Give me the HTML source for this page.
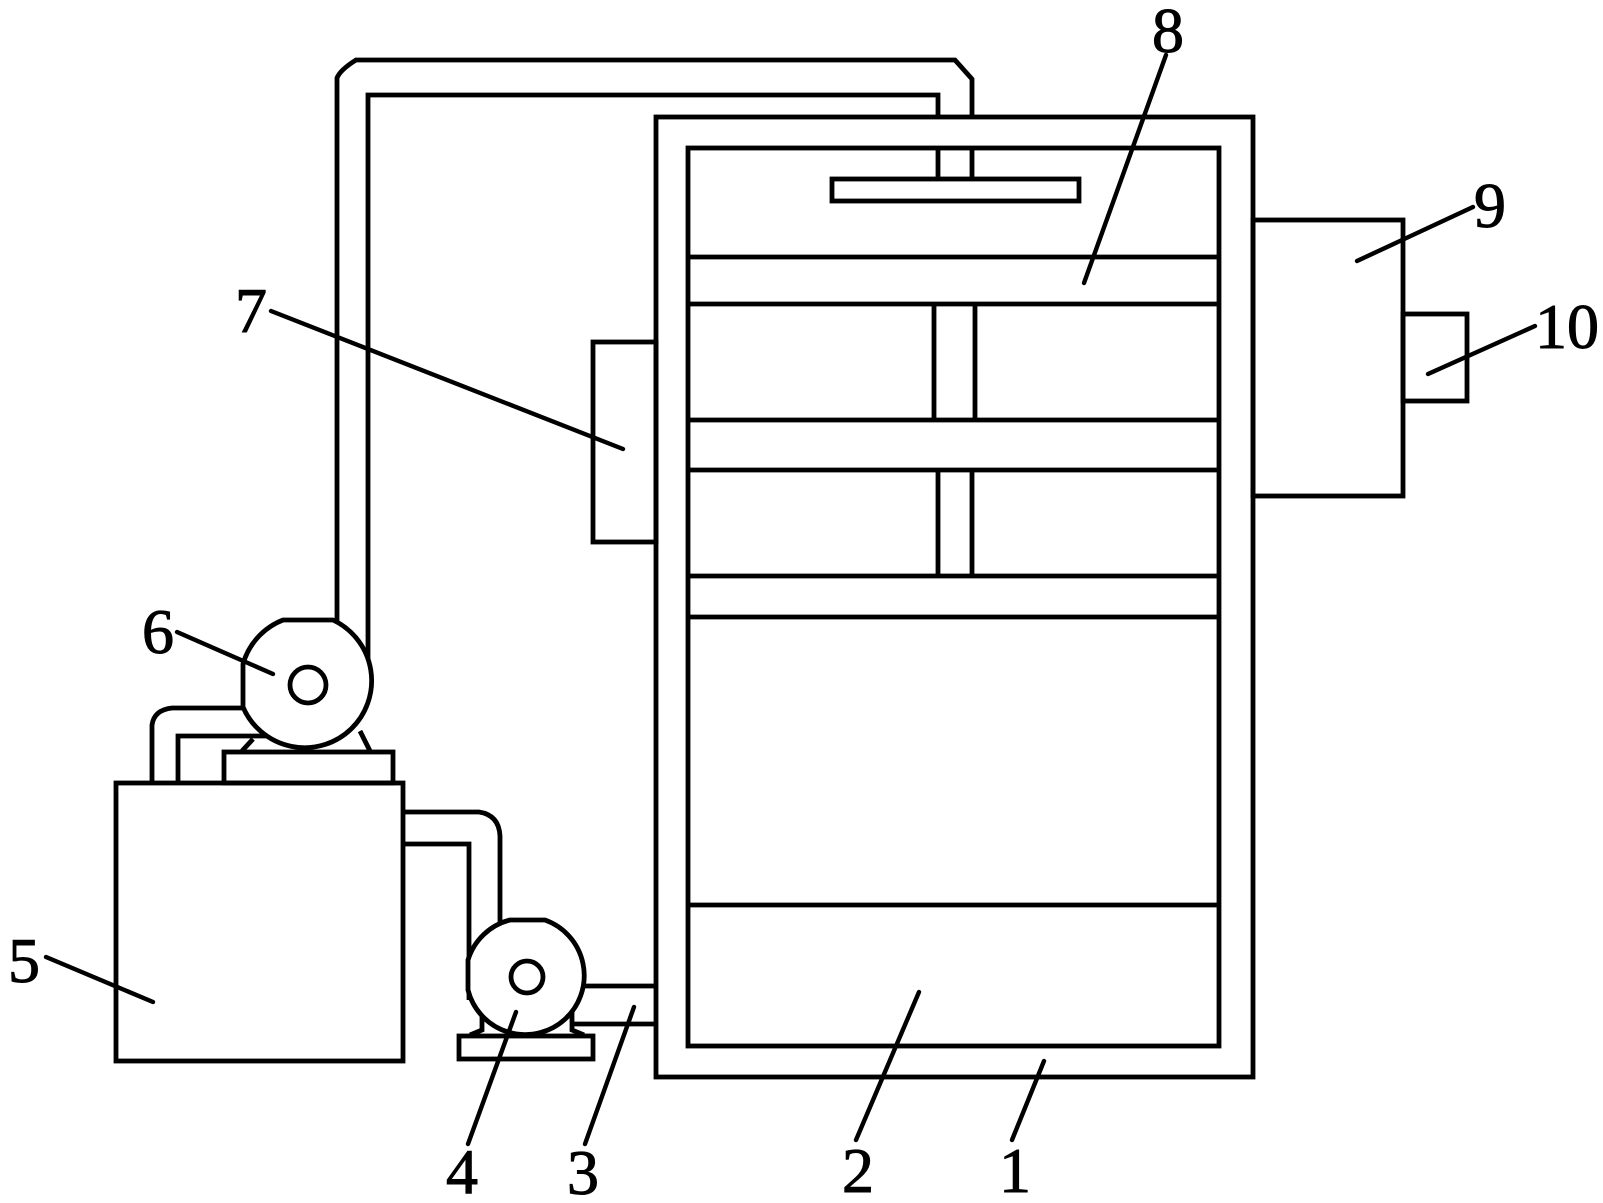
<!DOCTYPE html>
<html lang="en">
<head>
<meta charset="utf-8">
<title>Diagram</title>
<style>
html,body{margin:0;padding:0;background:#fff;width:1603px;height:1203px;overflow:hidden}
svg{display:block}
.s{fill:none;stroke:#000;stroke-width:4.8;stroke-linejoin:miter}
.w{fill:#fff;stroke:#000;stroke-width:4.8}
.l{fill:none;stroke:#000;stroke-width:4.4;stroke-linecap:round}
text{font-family:"Liberation Serif",serif;font-size:64px;fill:#000;text-anchor:middle;stroke:#000;stroke-width:1}
</style>
</head>
<body>
<svg width="1603" height="1203" viewBox="0 0 1603 1203" xmlns="http://www.w3.org/2000/svg">
<rect width="1603" height="1203" fill="#fff"/>

<!-- upper pipe -->
<path class="s" d="M337,640 L337,78 Q340,70 356,60 L955,60 Q964,70 972,79 L972,117"/>
<path class="s" d="M368,665 L368,95 L938,95 L938,117"/>

<!-- side boxes -->
<rect class="s" x="593" y="342" width="63" height="200"/>
<rect class="s" x="1253" y="220" width="150" height="276"/>
<rect class="s" x="1403" y="314" width="64" height="87"/>

<!-- main housing -->
<rect class="s" x="656" y="117" width="597" height="960"/>
<rect class="s" x="688" y="148" width="531" height="898"/>
<path class="s" d="M938,148V179M972,148V179"/>
<rect class="s" x="832" y="179" width="247" height="22"/>
<path class="s" d="M688,257H1219M688,304H1219M688,420H1219M688,470H1219M688,576H1219M688,617H1219M688,905H1219"/>
<path class="s" d="M934,304V420M975,304V420M938,470V576M972,470V576"/>

<!-- tank 5 and pipes -->
<path class="s" d="M152,783 L152,725 Q154,710 172,708 L250,708"/>
<path class="s" d="M178,783 L178,736 L275,736"/>
<path class="s" d="M403,812 L479,812 Q499,815 500,836 L500,935"/>
<path class="s" d="M403,844 L469,844 L469,1000"/>
<rect class="s" x="116" y="783" width="287" height="278"/>
<rect class="s" x="224" y="752" width="169" height="31"/>

<!-- pump 6 -->
<path class="s" d="M242,751 L253,739 M360,731 L370,751"/>
<path class="w" d="M283,620 L333,620 A67,67 0 1 1 243,707 L243,664 A67,67 0 0 1 283,620 Z"/>
<circle class="s" cx="308" cy="685" r="18"/>

<!-- pump 4 -->
<path class="s" d="M585,986H656M572,1024H656"/>
<path class="s" d="M482,1012 L482,1030 L470,1035 M572,1012 L572,1030 L584,1035"/>
<path class="w" d="M510,920 L545,920 A59,59 0 1 1 468,990 L468,960 A59,59 0 0 1 510,920 Z"/>
<circle class="s" cx="527" cy="977" r="16"/>
<rect class="s" x="459" y="1036" width="134" height="23"/>

<!-- leader lines -->
<path class="l" d="M1012,1140L1044,1061"/>
<path class="l" d="M856,1140L919,992"/>
<path class="l" d="M585,1144L634,1007"/>
<path class="l" d="M468,1144L516,1012"/>
<path class="l" d="M46,957L153,1002"/>
<path class="l" d="M177,632L273,674"/>
<path class="l" d="M271,311L623,449"/>
<path class="l" d="M1166,55L1084,283"/>
<path class="l" d="M1473,207L1357,261"/>
<path class="l" d="M1535,326L1428,374"/>

<!-- labels -->
<text x="1015" y="1192">1</text>
<text x="858" y="1192">2</text>
<text x="583" y="1194">3</text>
<text x="462" y="1193">4</text>
<text x="24" y="982">5</text>
<text x="158" y="653">6</text>
<text x="251" y="332">7</text>
<text x="1168" y="52">8</text>
<text x="1490" y="227">9</text>
<text x="1567" y="348">10</text>
</svg>
</body>
</html>
